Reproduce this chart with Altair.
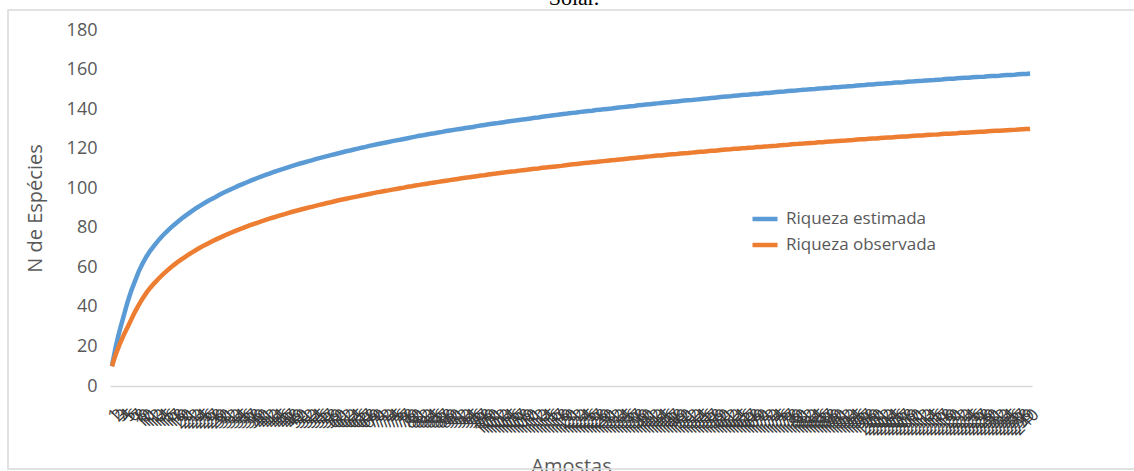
import altair as alt
import pandas as pd

samples = list(range(1, 241))

riqueza_estimada = [
    10.0, 20.0, 28.0, 35.0, 42.0, 48.0, 53.0, 58.0, 62.0, 65.5,
    68.5, 71.0, 73.4, 75.6, 77.6, 79.4, 81.2, 82.8, 84.4, 85.9,
    87.3, 88.7, 90.0, 91.2, 92.4, 93.5, 94.6, 95.6, 96.7, 97.7,
    98.6, 99.5, 100.4, 101.3, 102.1, 102.9, 103.7, 104.5, 105.3, 106.0,
    106.7, 107.4, 108.1, 108.8, 109.4, 110.0, 110.7, 111.3, 111.9, 112.5,
    113.0, 113.6, 114.1, 114.7, 115.2, 115.7, 116.2, 116.7, 117.2, 117.7,
    118.2, 118.7, 119.1, 119.6, 120.0, 120.5, 120.9, 121.4, 121.8, 122.2,
    122.6, 123.0, 123.4, 123.8, 124.2, 124.5, 124.9, 125.3, 125.7, 126.1,
    126.5, 126.8, 127.2, 127.5, 127.8, 128.2, 128.5, 128.9, 129.2, 129.5,
    129.8, 130.1, 130.4, 130.7, 131.0, 131.4, 131.7, 132.0, 132.3, 132.6,
    132.8, 133.1, 133.4, 133.7, 134.0, 134.2, 134.5, 134.8, 135.0, 135.3,
    135.6, 135.8, 136.1, 136.4, 136.6, 136.9, 137.1, 137.4, 137.6, 137.9,
    138.1, 138.3, 138.6, 138.8, 139.0, 139.2, 139.5, 139.7, 139.9, 140.1,
    140.3, 140.6, 140.8, 141.0, 141.2, 141.4, 141.6, 141.9, 142.1, 142.3,
    142.5, 142.7, 142.9, 143.1, 143.3, 143.5, 143.7, 143.9, 144.1, 144.3,
    144.5, 144.6, 144.8, 145.0, 145.2, 145.4, 145.6, 145.8, 146.0, 146.2,
    146.4, 146.5, 146.7, 146.9, 147.1, 147.2, 147.4, 147.6, 147.7, 147.9,
    148.1, 148.2, 148.4, 148.6, 148.8, 148.9, 149.1, 149.3, 149.4, 149.6,
    149.8, 149.9, 150.1, 150.2, 150.4, 150.5, 150.7, 150.8, 151.0, 151.1,
    151.3, 151.4, 151.6, 151.7, 151.9, 152.1, 152.2, 152.4, 152.5, 152.7,
    152.8, 152.9, 153.1, 153.2, 153.4, 153.5, 153.6, 153.8, 153.9, 154.1,
    154.2, 154.3, 154.5, 154.6, 154.7, 154.9, 155.0, 155.2, 155.3, 155.4,
    155.6, 155.7, 155.8, 155.9, 156.1, 156.2, 156.3, 156.4, 156.6, 156.7,
    156.8, 156.9, 157.1, 157.2, 157.3, 157.4, 157.6, 157.7, 157.8, 158.0,
]

riqueza_observada = [
    10.0, 16.0, 21.0, 25.5, 29.5, 33.5, 37.5, 41.0, 44.3, 47.2,
    49.7, 51.9, 54.0, 55.9, 57.7, 59.4, 61.0, 62.5, 63.9, 65.2,
    66.5, 67.7, 68.9, 70.0, 71.1, 72.1, 73.1, 74.0, 74.9, 75.8,
    76.7, 77.5, 78.3, 79.1, 79.8, 80.6, 81.3, 82.0, 82.6, 83.3,
    84.0, 84.6, 85.2, 85.8, 86.4, 86.9, 87.5, 88.1, 88.6, 89.1,
    89.6, 90.1, 90.6, 91.1, 91.6, 92.0, 92.5, 92.9, 93.4, 93.9,
    94.3, 94.7, 95.1, 95.5, 95.9, 96.3, 96.7, 97.1, 97.5, 97.9,
    98.2, 98.6, 98.9, 99.3, 99.6, 100.0, 100.3, 100.7, 101.0, 101.4,
    101.7, 102.0, 102.3, 102.6, 102.9, 103.2, 103.5, 103.8, 104.1, 104.4,
    104.7, 105.0, 105.3, 105.5, 105.8, 106.1, 106.4, 106.6, 106.9, 107.2,
    107.4, 107.7, 107.9, 108.2, 108.4, 108.6, 108.9, 109.1, 109.3, 109.6,
    109.8, 110.0, 110.3, 110.5, 110.7, 110.9, 111.1, 111.3, 111.6, 111.9,
    112.1, 112.3, 112.5, 112.7, 112.9, 113.1, 113.3, 113.5, 113.7, 113.9,
    114.1, 114.3, 114.5, 114.7, 114.9, 115.1, 115.3, 115.5, 115.7, 115.9,
    116.1, 116.3, 116.5, 116.6, 116.8, 117.0, 117.2, 117.3, 117.5, 117.7,
    117.8, 118.0, 118.2, 118.4, 118.5, 118.7, 118.9, 119.0, 119.2, 119.4,
    119.6, 119.7, 119.9, 120.0, 120.2, 120.3, 120.5, 120.6, 120.8, 120.9,
    121.1, 121.2, 121.4, 121.5, 121.7, 121.9, 122.0, 122.2, 122.3, 122.5,
    122.6, 122.8, 122.9, 123.0, 123.2, 123.3, 123.5, 123.6, 123.7, 123.9,
    124.0, 124.1, 124.3, 124.4, 124.6, 124.7, 124.8, 125.0, 125.1, 125.2,
    125.4, 125.5, 125.6, 125.7, 125.9, 126.0, 126.1, 126.2, 126.4, 126.5,
    126.6, 126.7, 126.9, 127.0, 127.1, 127.2, 127.4, 127.5, 127.6, 127.7,
    127.8, 128.0, 128.1, 128.2, 128.3, 128.4, 128.5, 128.6, 128.8, 128.9,
    129.0, 129.1, 129.2, 129.3, 129.4, 129.5, 129.7, 129.8, 129.9, 130.0,
]

series_names = ["Riqueza estimada", "Riqueza observada"]
series_colors = ["#5B9BD5", "#ED7D31"]
y_ticks = [0, 20, 40, 60, 80, 100, 120, 140, 160, 180]

df = pd.DataFrame({
    "Amostra": samples * 2,
    "Valor": riqueza_estimada + riqueza_observada,
    "Serie": [series_names[0]] * len(samples) + [series_names[1]] * len(samples),
    "ordem": [0] * len(samples) + [1] * len(samples),
})

FONT = "Open Sans"
GRAY = "#595959"

lines = alt.Chart(df).mark_line(strokeWidth=4.5).encode(
    x=alt.X(
        "Amostra:O",
        scale=alt.Scale(type="point", padding=0.5),
        axis=alt.Axis(
            title="Amostas",
            titleFont=FONT, titleFontSize=20, titleFontWeight="normal", titleColor=GRAY,
            titleY=86, titleBaseline="alphabetic",
            labelAngle=-45, labelAlign="right", labelBaseline="top",
            labelFont=FONT, labelFontSize=17, labelColor="#3c3c3c",
            labelOverlap=False, labelPadding=20, labelLimit=0,
            ticks=False, domainColor="#d9d9d9", domainWidth=1.5, grid=False,
        ),
    ),
    y=alt.Y(
        "Valor:Q",
        scale=alt.Scale(domain=[0, 180], nice=False),
        axis=alt.Axis(
            title="N de Espécies", values=y_ticks,
            titleFont=FONT, titleFontSize=20, titleFontWeight="normal", titleColor=GRAY,
            titleX=-65, titleY=178, titleBaseline="bottom",
            labelFont=FONT, labelFontSize=18, labelColor=GRAY, labelPadding=13,
            ticks=False, domain=False, grid=False,
        ),
    ),
    color=alt.Color(
        "Serie:N",
        scale=alt.Scale(domain=series_names, range=series_colors),
        legend=alt.Legend(
            title=None, orient="none", legendX=640, legendY=174,
            symbolType="stroke", symbolStrokeWidth=4.5, symbolSize=625,
            labelFont=FONT, labelFontSize=17, labelColor=GRAY, labelOffset=6,
            rowPadding=2,
        ),
    ),
    order="ordem:Q",
    detail="Serie:N",
)

frame = alt.Chart(pd.DataFrame({"a": [0]})).mark_rect(
    fill=None, stroke="#d9d9d9", strokeWidth=1.5
).encode(
    x=alt.value(-102), x2=alt.value(2000), y=alt.value(-20), y2=alt.value(439)
)

titulo = alt.Chart(pd.DataFrame({"t": ["Solar."]})).mark_text(
    font="Liberation Serif", fontSize=22, color="#000000", baseline="alphabetic", align="center"
).encode(
    text="t:N", x=alt.value(464), y=alt.value(-25)
)

chart = alt.layer(frame, titulo, lines).properties(
    width=922, height=356,
    padding={"left": 110, "top": 30, "right": 102, "bottom": 85},
    autosize=alt.AutoSizeParams(type="none"),
    background="white",
).configure_view(stroke=None)

chart.save("out.html", embed_options={"renderer": "svg", "actions": False})
